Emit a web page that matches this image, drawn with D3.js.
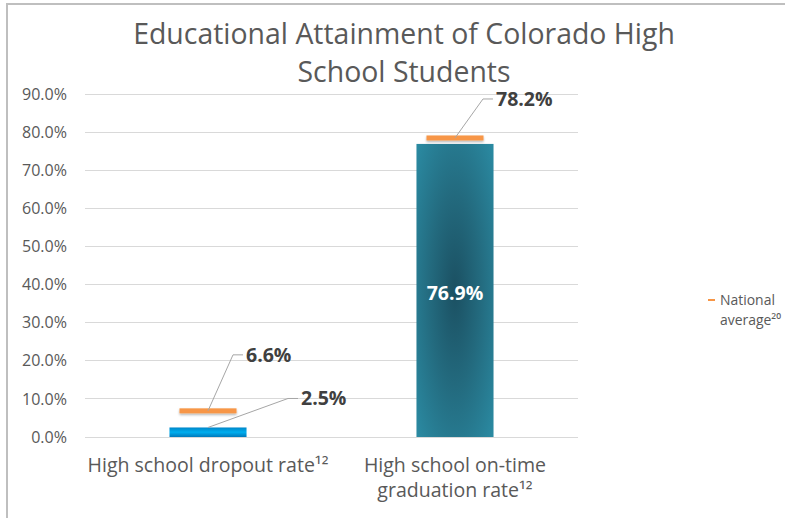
<!DOCTYPE html>
<html><head><meta charset="utf-8">
<script src="https://cdn.jsdelivr.net/npm/d3@7"></script>
<style>body{margin:0;background:#fff} svg{display:block} text{font-family:"Open Sans",sans-serif}</style>
</head><body><svg id="c" width="790" height="518"></svg>
<script>
const categories = ["High school dropout rate¹²", "High school on-time graduation rate¹²"];
const categoryLines = [["High school dropout rate¹²"], ["High school on-time", "graduation rate¹²"]];
const coloradoValues = [2.5, 76.9];
const nationalValues = [6.6, 78.2];
const yTicks = [0, 10, 20, 30, 40, 50, 60, 70, 80, 90];
const titleLines = ["Educational Attainment of Colorado High", "School Students"];
const legendLines = ["National", "average²⁰"];

const svg = d3.select("#c");
const defs = svg.append("defs");

const y = d3.scaleLinear().domain([0, 90]).range([437, 94]);
const x = d3.scaleBand().domain(categories).range([85, 578]).paddingInner(0.688).paddingOuter(0.342);
const fmt = v => d3.format(".1f")(v) + "%";

function fitGroup(sel, base, target) {
  sel.style("font-size", base + "px");
  const w = sel.node().getComputedTextLength();
  const fs = base * target / w;
  sel.style("font-size", fs + "px");
}

// gradients
const lg = defs.append("linearGradient").attr("id", "g1").attr("x1", 0).attr("y1", 0).attr("x2", 0).attr("y2", 1);
lg.append("stop").attr("offset", 0).attr("stop-color", "#0086c8");
lg.append("stop").attr("offset", 0.5).attr("stop-color", "#00aeef");
lg.append("stop").attr("offset", 1).attr("stop-color", "#0079bb");
const rg = defs.append("radialGradient").attr("id", "g2").attr("cx", 0.5).attr("cy", 0.5).attr("r", 0.72);
rg.append("stop").attr("offset", 0).attr("stop-color", "#1b5062");
rg.append("stop").attr("offset", 0.45).attr("stop-color", "#236a7e");
rg.append("stop").attr("offset", 1).attr("stop-color", "#2b8ca4");
const f = defs.append("filter").attr("id", "sh").attr("x", -0.2).attr("y", -1).attr("width", 1.4).attr("height", 3);
f.append("feDropShadow").attr("dx", 0).attr("dy", 1.5).attr("stdDeviation", 1).attr("flood-color", "#000").attr("flood-opacity", 0.3);

// border
svg.append("path").attr("d", "M7,518V4H785").attr("fill", "none").attr("stroke", "#bfbfbf").attr("stroke-width", 2);

// title
const title = svg.append("g").attr("fill", "#595959");
title.selectAll("text").data(titleLines).join("text")
  .attr("x", 404).attr("y", (d, i) => 44 + i * 38)
  .attr("text-anchor", "middle").text(d => d);
fitGroup(title.selectAll("text"), 26, 542);

// gridlines
svg.append("g").selectAll("line").data(yTicks).join("line")
  .attr("x1", 85).attr("x2", 578).attr("y1", d => y(d)).attr("y2", d => y(d))
  .attr("stroke", "#d9d9d9").attr("stroke-width", 1).attr("shape-rendering", "crispEdges");

// y axis labels
const yAxis = svg.append("g").attr("transform", "translate(77,0)")
  .call(d3.axisLeft(y).tickValues(yTicks).tickFormat(fmt).tickSize(0).tickPadding(10));
yAxis.select(".domain").remove();
yAxis.selectAll("text").attr("fill", "#595959").style("font-family", "'Open Sans', sans-serif");
{
  const top = yAxis.selectAll("text").filter(d => d === 90);
  top.style("font-size", "14px");
  const fs = 14 * 45 / top.node().getComputedTextLength();
  yAxis.selectAll("text").style("font-size", fs + "px");
}

// bars
svg.append("g").selectAll("rect").data(categories).join("rect")
  .attr("x", d => x(d)).attr("width", x.bandwidth())
  .attr("y", (d, i) => y(coloradoValues[i])).attr("height", (d, i) => y(0) - y(coloradoValues[i]))
  .attr("fill", (d, i) => i === 0 ? "url(#g1)" : "url(#g2)");

// national markers
const mw = x.bandwidth() * 0.74;
svg.append("g").selectAll("rect").data(categories).join("rect")
  .attr("x", d => x(d) + x.bandwidth() / 2 - mw / 2).attr("width", mw)
  .attr("y", (d, i) => y(nationalValues[i]) - 3.5).attr("height", 5)
  .attr("fill", "#f79646").attr("filter", "url(#sh)");

// leader lines + labels
const cx = d => x(d) + x.bandwidth() / 2;
const leaders = [
  { x0: cx(categories[0]), y0: y(nationalValues[0]) - 1, dx: 25, dy: -56, v: nationalValues[0] },
  { x0: cx(categories[0]), y0: y(coloradoValues[0]), dx: 80, dy: -29, v: coloradoValues[0] },
  { x0: cx(categories[1]), y0: y(nationalValues[1]) - 1, dx: 28, dy: -39, v: nationalValues[1] }
];
const lab = svg.append("g");
leaders.forEach(l => {
  lab.append("path")
    .attr("d", `M${l.x0},${l.y0}L${l.x0 + l.dx},${l.y0 + l.dy}H${l.x0 + l.dx + 10}`)
    .attr("fill", "none").attr("stroke", "#a6a6a6").attr("stroke-width", 1);
  lab.append("text").attr("x", l.x0 + l.dx + 13).attr("y", l.y0 + l.dy).attr("dy", "0.35em")
    .style("font-size", "19.5px").attr("font-weight", "bold").attr("fill", "#404040").text(fmt(l.v));
});
lab.append("text").attr("x", cx(categories[1])).attr("y", y(coloradoValues[1] / 2) + 3).attr("dy", "0.35em")
  .attr("text-anchor", "middle").style("font-size", "19.5px").attr("font-weight", "bold").attr("fill", "#fff")
  .text(fmt(coloradoValues[1]));

// category labels
const cat = svg.append("g").attr("fill", "#595959");
categories.forEach((c, i) => {
  cat.selectAll(null).data(categoryLines[i]).join("text")
    .attr("x", cx(c)).attr("y", (d, j) => 472 + j * 25)
    .attr("text-anchor", "middle").text(d => d);
});
fitGroup(cat.selectAll("text"), 16, 241);

// legend
const leg = svg.append("g");
leg.append("line").attr("x1", 708).attr("x2", 715).attr("y1", 300).attr("y2", 300)
  .attr("stroke", "#f79646").attr("stroke-width", 2);
const legText = leg.selectAll("text").data(legendLines).join("text")
  .attr("x", 720).attr("y", (d, i) => 305 + i * 20)
  .attr("fill", "#595959").text(d => d);
fitGroup(legText, 14, 55);
</script>
</body></html>
